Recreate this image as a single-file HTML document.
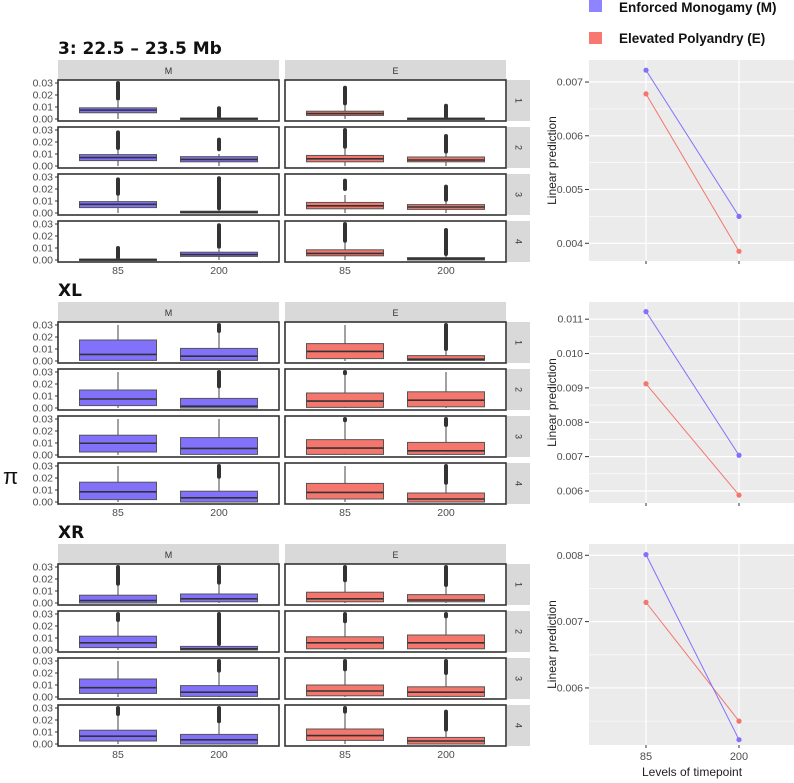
<!DOCTYPE html>
<html><head><meta charset="utf-8">
<style>
html,body{margin:0;padding:0;background:#fff;}
svg{display:block;font-family:"Liberation Sans",Arial,sans-serif;}
</style></head>
<body>
<svg id="chart" width="794" height="783" viewBox="0 0 794 783" xmlns="http://www.w3.org/2000/svg">
<g>
  <rect x="589" y="0" width="13" height="12" fill="#8f84ff"/>
  <text x="619" y="12" font-size="13.5" font-weight="bold" fill="#111">Enforced Monogamy (M)</text>
  <rect x="589" y="32" width="13" height="12" fill="#f8786f"/>
  <text x="619" y="43" font-size="13.5" font-weight="bold" fill="#111">Elevated Polyandry (E)</text>
</g>
<text x="3" y="484" font-size="22" fill="#111">π</text>
</svg>
<script>
// ----- data -----
var blockTitles = ["3: 22.5 – 23.5 Mb", "XL", "XR"];
var groups = ["M", "E"];
var timepoints = ["85", "200"];
var rowLabels = ["1", "2", "3", "4"];
var yTicks = [0, 0.01, 0.02, 0.03];
var yTickLabels = ["0.00", "0.01", "0.02", "0.03"];
// box stats: [q1, median, q3, whiskerHigh, outlierLow, outlierHigh]; index [row][group][timepoint]
var boxes1 = [
 [[[0.0052,0.0074,0.0093,0.015,0.017,0.03],[0,0.0003,0.0008,0.0015,0.002,0.009]],[[0.003,0.0045,0.0065,0.012,0.013,0.026],[0,0.0003,0.0008,0.001,0.001,0.011]]],
 [[[0.0045,0.007,0.0095,0.014,0.015,0.028],[0.0035,0.0055,0.0078,0.01,0.014,0.022]],[[0.0035,0.006,0.0088,0.015,0.016,0.03],[0.0035,0.005,0.0075,0.011,0.012,0.025]]],
 [[[0.0045,0.0072,0.0095,0.015,0.016,0.028],[0,0.0007,0.0015,0.003,0.004,0.029]],[[0.0035,0.006,0.0088,0.015,0.02,0.027],[0.003,0.005,0.007,0.01,0.011,0.022]]],
 [[[0,0.0003,0.0008,0.001,0.001,0.01],[0.003,0.0045,0.0065,0.009,0.011,0.029]],[[0.0035,0.0055,0.0085,0.015,0.016,0.03],[0,0.001,0.002,0.004,0.005,0.025]]]
];
var boxes2 = [
 [[[0.0005,0.0055,0.0175,0.03,null,null],[0.0005,0.004,0.0105,0.024,0.025,0.03]],[[0.002,0.008,0.0145,0.03,null,null],[0.0005,0.0015,0.0045,0.01,0.01,0.03]]],
 [[[0.002,0.0075,0.015,0.03,null,null],[0,0.0015,0.008,0.018,0.018,0.03]],[[0.0005,0.0058,0.0125,0.029,0.029,0.03],[0.001,0.0065,0.0135,0.03,null,null]]],
 [[[0.0025,0.0098,0.0165,0.03,null,null],[0.0005,0.0055,0.0145,0.03,null,null]],[[0.0005,0.0058,0.0128,0.029,0.029,0.03],[0.0005,0.0035,0.0105,0.025,0.025,0.03]]],
 [[[0.002,0.0085,0.0165,0.03,null,null],[0,0.0035,0.009,0.02,0.021,0.03]],[[0.0025,0.008,0.0155,0.03,null,null],[0,0.0025,0.0075,0.016,0.016,0.03]]]
];
var boxes3 = [
 [[[0,0.002,0.0065,0.015,0.016,0.03],[0.001,0.0035,0.0075,0.016,0.017,0.03]],[[0.001,0.0035,0.009,0.018,0.019,0.03],[0.001,0.0025,0.007,0.015,0.015,0.03]]],
 [[[0.002,0.006,0.0115,0.025,0.025,0.03],[0,0.001,0.003,0.005,0.005,0.03]],[[0.001,0.006,0.011,0.024,0.024,0.03],[0.001,0.006,0.0125,0.027,0.028,0.03]]],
 [[[0.003,0.0078,0.015,0.03,null,null],[0.0005,0.004,0.0095,0.022,0.022,0.03]],[[0.001,0.005,0.01,0.023,0.023,0.03],[0.0005,0.004,0.0085,0.02,0.02,0.03]]],
 [[[0.0025,0.0065,0.0115,0.025,0.025,0.03],[0,0.0035,0.008,0.019,0.019,0.03]],[[0.003,0.007,0.0125,0.026,0.027,0.03],[0,0.0025,0.0055,0.012,0.012,0.027]]]
];
var allBoxes = [boxes1, boxes2, boxes3];
// line plot predictions [85, 200]
var predM1 = [0.00722, 0.00450];
var predE1 = [0.00678, 0.00385];
var predM2 = [0.01122, 0.00704];
var predE2 = [0.00912, 0.00588];
var predM3 = [0.00801, 0.00522];
var predE3 = [0.00729, 0.00550];
var lineTicks1 = [0.004, 0.005, 0.006, 0.007];
var lineTicks2 = [0.006, 0.007, 0.008, 0.009, 0.010, 0.011];
var lineTicks3 = [0.006, 0.007, 0.008];
var lineTickLabels1 = ["0.004","0.005","0.006","0.007"];
var lineTickLabels2 = ["0.006","0.007","0.008","0.009","0.010","0.011"];
var lineTickLabels3 = ["0.006","0.007","0.008"];
var lineDomains = [[0.00367, 0.00741], [0.00565, 0.0115], [0.00514, 0.00817]];

// ----- drawing -----
(function () {
var NS = "http://www.w3.org/2000/svg";
var svg = document.getElementById("chart");
function mk(tag, attrs, parent, txt) {
  var e = document.createElementNS(NS, tag);
  for (var k in attrs) e.setAttribute(k, attrs[k]);
  if (txt !== undefined) e.textContent = txt;
  (parent || svg).appendChild(e);
  return e;
}
var blockTops = [60, 302, 544];
var panelX = [58, 285];
var panelW = 221;
var rowH = 41, rowStep = 47;
var fills = ["#8171fb", "#f4766d"];
var tpOffset = [60, 161];
var boxW = 77;
var predsM = [predM1, predM2, predM3];
var predsE = [predE1, predE2, predE3];
var lTicks = [lineTicks1, lineTicks2, lineTicks3];
var lTickLabels = [lineTickLabels1, lineTickLabels2, lineTickLabels3];

for (var b = 0; b < 3; b++) {
  var S = blockTops[b];
  var title = mk("text", {x: 58, y: S - 6, "font-size": 17, "font-weight": "bold", fill: "#111", "font-family": "'DejaVu Sans', sans-serif"}, svg, blockTitles[b]);
  
  
  var bg = mk("g", {}, svg);
  
  
  for (var g = 0; g < 2; g++) {
    var st = mk("rect", {x: panelX[g], y: S, width: panelW, height: 20, fill: "#d9d9d9"}, bg);
    
    
    var stt = mk("text", {x: panelX[g] + panelW / 2, y: S + 14, "font-size": 9, fill: "#333", "text-anchor": "middle"}, bg, groups[g]);
    
    
  }
  for (var r = 0; r < 4; r++) {
    var rowTop = S + 20 + r * rowStep;
    var y0 = rowTop + 39;
    var yS = function (v) { return y0 - v * 1200; };
    var rs = mk("rect", {x: 507, y: rowTop, width: 23, height: rowH, fill: "#d9d9d9"}, bg);
    
    
    var rl = mk("text", {x: 518, y: rowTop + rowH / 2, "font-size": 9, fill: "#333", "text-anchor": "middle", transform: "rotate(90 518 " + (rowTop + rowH / 2) + ")", "dominant-baseline": "middle"}, bg, rowLabels[r]);
    
    
    for (var t = 0; t < yTicks.length; t++) {
      var ty = yS(yTicks[t]);
      var tl = mk("text", {x: 53, y: ty + 3.5, "font-size": 10.5, fill: "#4d4d4d", "text-anchor": "end"}, bg, yTickLabels[t]);
      
      
      mk("line", {x1: 55, x2: 58, y1: ty, y2: ty, stroke: "#333", "stroke-width": 1}, bg);
    }
    for (var g = 0; g < 2; g++) {
      var px = panelX[g];
      var pr = mk("rect", {x: px, y: rowTop, width: panelW, height: rowH, fill: "#fff", stroke: "#333", "stroke-width": 1.6}, bg);
      
      
      for (var k = 0; k < 2; k++) {
        var s = allBoxes[b][r][g][k];
        var cx = px + tpOffset[k];
        var bx = mk("g", {}, bg);
        
        
        mk("line", {x1: cx, x2: cx, y1: yS(Math.max(s[3], s[2])), y2: yS(0), stroke: "#444", "stroke-width": 1}, bx);
        if (s[4] !== null) {
          mk("line", {x1: cx, x2: cx, y1: yS(s[5]), y2: yS(s[4]), stroke: "#333", "stroke-width": 4, "stroke-linecap": "round"}, bx);
        }
        var hb = Math.max(yS(s[0]) - yS(s[2]), 1.5);
        mk("rect", {x: cx - boxW / 2, y: yS(s[2]), width: boxW, height: hb, fill: fills[g], stroke: "#555", "stroke-width": 1}, bx);
        mk("line", {x1: cx - boxW / 2, x2: cx + boxW / 2, y1: yS(s[1]), y2: yS(s[1]), stroke: "#333", "stroke-width": 1.6}, bx);
      }
      if (r === 3) {
        for (var k = 0; k < 2; k++) {
          var xl = mk("text", {x: px + tpOffset[k], y: rowTop + rowH + 12, "font-size": 10.5, fill: "#4d4d4d", "text-anchor": "middle"}, bg, timepoints[k]);
          
          
        }
      }
    }
  }
  // line plot
  var lt = S, lb = (b === 0 ? 261 : S + 201);
  var dom = lineDomains[b];
  var ly = function (v) { return lb - (v - dom[0]) / (dom[1] - dom[0]) * (lb - lt); };
  var xs = [646, 739];
  var lg = mk("g", {}, svg);
  
  
  var lr = mk("rect", {x: 589, y: lt, width: 205, height: lb - lt, fill: "#ebebeb"}, lg);
  
  
  var tk = lTicks[b];
  var step = tk[1] - tk[0];
  for (var v = tk[0] - step / 2; v <= dom[1]; v += step / 2) {
    if (v < dom[0]) continue;
    mk("line", {x1: 589, x2: 794, y1: ly(v), y2: ly(v), stroke: "#fff", "stroke-width": 0.6}, lg);
  }
  for (var t = 0; t < tk.length; t++) {
    var yy = ly(tk[t]);
    mk("line", {x1: 589, x2: 794, y1: yy, y2: yy, stroke: "#fff", "stroke-width": 1.2}, lg);
    mk("line", {x1: 585, x2: 589, y1: yy, y2: yy, stroke: "#333", "stroke-width": 1}, lg);
    var ytl = mk("text", {x: 583, y: yy + 3.5, "font-size": 10.5, fill: "#4d4d4d", "text-anchor": "end"}, lg, lTickLabels[b][t]);
    
    
  }
  for (var k = 0; k < 2; k++) {
    mk("line", {x1: xs[k], x2: xs[k], y1: lt, y2: lb, stroke: "#fff", "stroke-width": 1.2}, lg);
    mk("line", {x1: xs[k], x2: xs[k], y1: lb, y2: lb + 3, stroke: "#333", "stroke-width": 1}, lg);
    if (b === 2) {
      var xtl = mk("text", {x: xs[k], y: lb + 15, "font-size": 11, fill: "#4d4d4d", "text-anchor": "middle"}, lg, timepoints[k]);
      
      
    }
  }
  var cy = (lt + lb) / 2;
  var yt = mk("text", {x: 556, y: cy, "font-size": 12, fill: "#222", "text-anchor": "middle", transform: "rotate(-90 556 " + cy + ")"}, lg, "Linear prediction");
  
  
  var series = [["#f4766d", predsE[b], "series-e"], ["#8171fb", predsM[b], "series-m"]];
  for (var si = 0; si < 2; si++) {
    var p = series[si][1], col = series[si][0];
    var sg = mk("g", {}, lg);
    
    
    mk("line", {x1: xs[0], y1: ly(p[0]), x2: xs[1], y2: ly(p[1]), stroke: col, "stroke-width": 1}, sg);
    for (var k = 0; k < 2; k++) {
      var pt = mk("circle", {cx: xs[k], cy: ly(p[k]), r: 2.6, fill: col}, sg);
      
      
    }
  }
}
var xt = mk("text", {x: 692, y: 776, "font-size": 12, fill: "#222", "text-anchor": "middle"}, svg, "Levels of timepoint");


})();
</script>
</body></html>
